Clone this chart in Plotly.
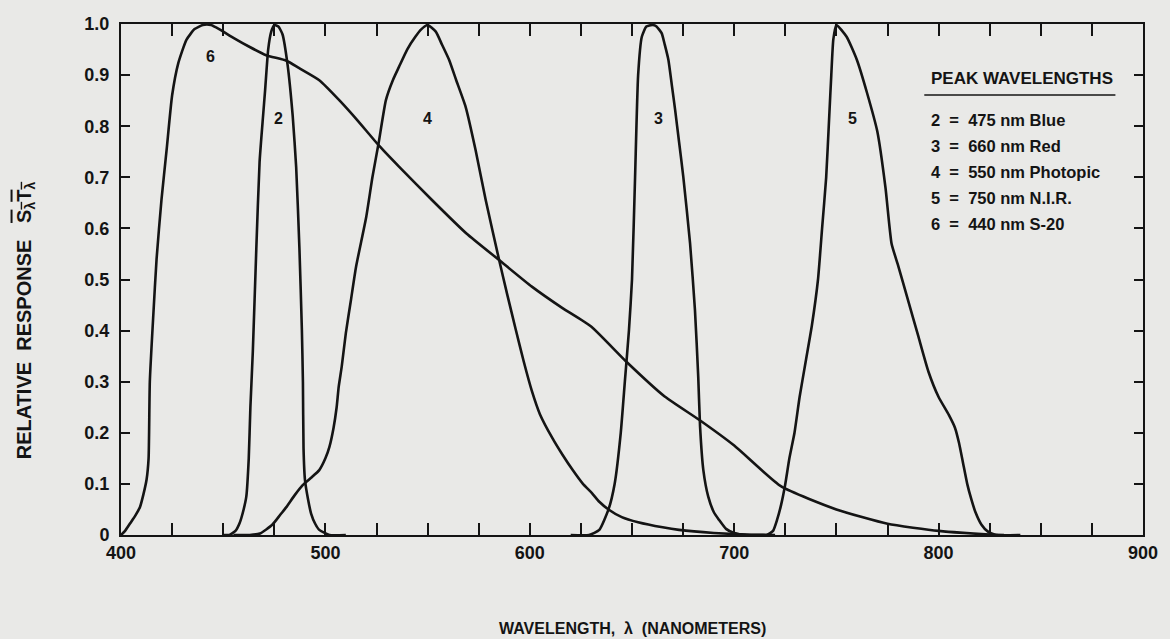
import plotly.graph_objects as go

# ---- data (wavelength nm, relative response) ----
c6_wl = [400, 402, 404.5, 407, 409.3, 411, 412.5, 413.5, 414.1, 415.8, 417.4, 419.8, 422.3, 425, 428, 432, 436,
         440, 444, 448, 455, 463, 471, 481, 487, 497, 507, 516, 526, 536, 552, 569, 585, 601, 616, 630, 647,
         666, 683, 700, 723, 750, 775, 800, 825, 832]
c6_y = [0, 0.008, 0.023, 0.038, 0.055, 0.08, 0.108, 0.15, 0.3, 0.43, 0.54, 0.656, 0.753, 0.86, 0.923, 0.969, 0.99,
        0.998, 0.998, 0.99, 0.973, 0.955, 0.939, 0.928, 0.914, 0.89, 0.85, 0.81, 0.763, 0.721, 0.656, 0.59, 0.538,
        0.486, 0.444, 0.408, 0.34, 0.271, 0.225, 0.175, 0.095, 0.05, 0.022, 0.008, 0.001, 0]

c2_wl = [450, 453, 456, 458, 460, 461.3, 462.5, 463.3, 464.5, 466.2, 467.8, 469.5, 470.5, 472, 473.5, 475, 477,
         479, 481.5, 484, 485.7, 487.3, 488.5, 489, 489.3, 490, 491.5, 493, 495, 497, 502, 510]
c2_y = [0, 0, 0.008, 0.023, 0.05, 0.075, 0.15, 0.25, 0.36, 0.56, 0.73, 0.82, 0.87, 0.95, 0.985, 0.998, 0.995,
        0.98, 0.92, 0.82, 0.72, 0.56, 0.4, 0.3, 0.17, 0.108, 0.07, 0.042, 0.022, 0.01, 0, 0]

c4_wl = [455, 463, 468, 474, 478, 481, 485, 489, 493, 497, 500, 502, 504, 505.5, 506.5, 508, 510, 512.5, 515,
         520, 523, 526, 529.6, 533, 536, 540, 544, 547, 550, 554, 557, 560.5, 564, 568.6, 573.5, 578.4, 585,
         589, 593, 597, 601, 605, 611, 616, 621, 626, 630.4, 634, 638.5, 645, 653, 665, 673, 690, 705, 720]
c4_y = [0, 0, 0.003, 0.02, 0.04, 0.055, 0.078, 0.098, 0.112, 0.127, 0.15, 0.173, 0.21, 0.25, 0.29, 0.33, 0.395,
        0.46, 0.525, 0.623, 0.7, 0.766, 0.851, 0.89, 0.916, 0.95, 0.975, 0.99, 0.998, 0.985, 0.96, 0.93, 0.89,
        0.838, 0.753, 0.656, 0.538, 0.47, 0.404, 0.34, 0.282, 0.236, 0.19, 0.157, 0.127, 0.1, 0.082, 0.065,
        0.05, 0.035, 0.025, 0.015, 0.01, 0.004, 0.001, 0]

c3_wl = [620, 629, 634, 638.5, 641.5, 644.5, 646.5, 648.5, 650, 651.5, 653, 654.8, 657, 660, 662, 664.5, 666,
         667.8, 669.5, 671.1, 673, 675.1, 678.4, 680.8, 682.4, 683.3, 684.9, 687.3, 690, 692.5, 696, 700, 706, 715]
c3_y = [0, 0, 0.01, 0.05, 0.1, 0.2, 0.3, 0.4, 0.5, 0.7, 0.9, 0.975, 0.995, 0.998, 0.995, 0.982, 0.96,
        0.93, 0.88, 0.832, 0.77, 0.701, 0.571, 0.44, 0.31, 0.212, 0.127, 0.075, 0.045, 0.03, 0.012, 0.004, 0, 0]

c5_wl = [705, 716, 719, 721, 723, 725, 727, 729.5, 732, 735, 738, 741, 743, 745, 746.5, 747.5, 748.5, 750,
         755, 760, 765, 770, 774, 777, 780, 785, 790, 795, 800, 805, 808, 810, 812, 814, 816, 818, 821, 824,
         828, 840]
c5_y = [0, 0, 0.008, 0.03, 0.06, 0.1, 0.15, 0.2, 0.27, 0.34, 0.41, 0.5, 0.6, 0.7, 0.82, 0.9, 0.97, 0.998,
        0.975, 0.93, 0.865, 0.79, 0.68, 0.57, 0.53, 0.46, 0.39, 0.32, 0.27, 0.235, 0.21, 0.18, 0.14, 0.1,
        0.07, 0.045, 0.02, 0.007, 0, 0]

curve_ids = ["6", "2", "4", "3", "5"]
label_wl = [444, 477, 550, 663, 758]
label_y = [0.936, 0.816, 0.816, 0.816, 0.816]

x_tickvals = [400 + 25 * i for i in range(21)]
x_ticktext = [str(v) if v % 100 == 0 else "" for v in x_tickvals]
y_tickvals = [0, 0.1, 0.2, 0.3, 0.4, 0.5, 0.6, 0.7, 0.8, 0.9, 1.0]
y_ticktext = ["0", "0.1", "0.2", "0.3", "0.4", "0.5", "0.6", "0.7", "0.8", "0.9", "1.0"]

legend_title = "PEAK WAVELENGTHS"
legend_lines = ["2  =  475 nm Blue", "3  =  660 nm Red", "4  =  550 nm Photopic",
                "5  =  750 nm N.I.R.", "6  =  440 nm S-20"]

# ---- figure ----
FONT = "Liberation Sans, Arial, Roboto"
INK = "#141414"
BG = "#e9e9e7"

fig = go.Figure()
series = [(c6_wl, c6_y), (c2_wl, c2_y), (c4_wl, c4_y), (c3_wl, c3_y), (c5_wl, c5_y)]
for (wl, yy), cid in zip(series, curve_ids):
    fig.add_trace(go.Scatter(x=wl, y=yy, mode="lines", name=cid,
                             line=dict(color=INK, width=2.6, shape="spline", smoothing=0.5),
                             hoverinfo="x+y+name", showlegend=False))

for cid, lx, ly in zip(curve_ids, label_wl, label_y):
    fig.add_annotation(x=lx, y=ly, text="<b>" + cid + "</b>", showarrow=False,
                       font=dict(family=FONT, size=16, color=INK))

# legend block
lx_paper = 0.791
fig.add_annotation(xref="paper", yref="paper", x=lx_paper, y=0.894, xanchor="left", yanchor="middle",
                   text="<b>" + legend_title + "</b>", showarrow=False,
                   font=dict(family=FONT, size=17, color=INK))
fig.add_shape(type="line", xref="paper", yref="paper", x0=0.786, x1=0.973, y0=0.861, y1=0.861,
              line=dict(color=INK, width=1.5))
legend_y = [0.812, 0.761, 0.710, 0.659, 0.609]
for t, yy in zip(legend_lines, legend_y):
    fig.add_annotation(xref="paper", yref="paper", x=lx_paper, y=yy, xanchor="left", yanchor="middle",
                       text="<b>" + t + "</b>", showarrow=False,
                       font=dict(family=FONT, size=16.5, color=INK))

# axis titles
fig.add_annotation(xref="paper", yref="paper", x=0.5, y=-0.182, xanchor="center", yanchor="middle",
                   text="<b>WAVELENGTH,  λ  (NANOMETERS)</b>", showarrow=False,
                   font=dict(family=FONT, size=16, color=INK))
fig.add_annotation(xref="paper", yref="paper", x=-0.094, y=0.42, xanchor="center", yanchor="middle",
                   textangle=-90,
                   text="<b>RELATIVE  RESPONSE   <span style='text-decoration:overline'>S<sub>λ</sub>T<sub>λ</sub></span></b>",
                   showarrow=False, font=dict(family=FONT, size=20, color=INK))

axis_common = dict(showgrid=False, zeroline=False, showline=True, linecolor=INK, linewidth=2,
                   mirror="allticks", ticks="inside", tickcolor=INK, tickwidth=1.5,
                   tickfont=dict(family=FONT, size=18, color=INK))
fig.update_xaxes(range=[400, 900], tickvals=x_tickvals, ticktext=["<b>%s</b>" % t if t else "" for t in x_ticktext],
                 ticklen=12, **axis_common)
fig.update_yaxes(range=[0, 1.0], tickvals=y_tickvals, ticktext=["<b>%s</b>" % t for t in y_ticktext],
                 ticklen=9, ticklabelstandoff=6, **axis_common)

fig.update_layout(width=1170, height=639, margin=dict(l=121, r=24, t=24, b=104),
                  paper_bgcolor=BG, plot_bgcolor=BG, showlegend=False)

fig.write_html("out.html", config={"displayModeBar": False},
               post_script="document.body.style.margin='0';document.body.style.overflow='hidden';"
                           "document.body.style.background='#e9e9e7';")
